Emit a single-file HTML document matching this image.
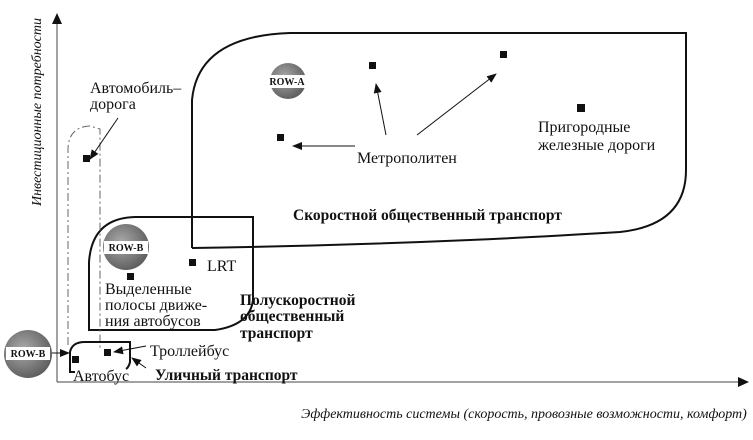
<!DOCTYPE html>
<html><head><meta charset="utf-8"><style>
body{margin:0;background:#fff}
svg text{font-family:"Liberation Serif",serif;fill:#111}
</style></head><body>
<svg width="753" height="435" viewBox="0 0 753 435" xmlns="http://www.w3.org/2000/svg">
<defs>
<marker id="a" markerWidth="10" markerHeight="8" refX="9" refY="4" orient="auto" markerUnits="userSpaceOnUse"><path d="M0,0L10,4L0,8z" fill="#111"/></marker>
<radialGradient id="g" cx="0.4" cy="0.4" r="0.7"><stop offset="0" stop-color="#aaa"/><stop offset="1" stop-color="#555"/></radialGradient>
</defs>
<line x1="57" y1="382" x2="57" y2="22" stroke="#444" stroke-width="1"/>
<path d="M52,24L57,13L62,24z" fill="#111"/>
<line x1="57" y1="382" x2="740" y2="382" stroke="#444" stroke-width="1"/>
<path d="M738,377L749,382L738,387z" fill="#111"/>
<text transform="translate(41,112) rotate(-90)" font-size="14" font-style="italic" text-anchor="middle">Инвестиционные потребности</text>
<text x="524" y="418" font-size="14" font-style="italic" text-anchor="middle">Эффективность системы (скорость, провозные возможности, комфорт)</text>
<path d="M192,248 L192,100 Q198,36 290,33 L686,33 L686,170 Q686,225 620,232 Q520,238 470,240 Q330,246 192,248" fill="none" stroke="#111" stroke-width="2"/>
<path d="M180,217 L253,217 L253,300 Q250,325 215,330 L89,330 L89,262 Q92,218 135,217 Z" fill="none" stroke="#111" stroke-width="2"/>
<line x1="192" y1="217" x2="192" y2="248" stroke="#111" stroke-width="2"/>
<path d="M68,345 L68,150 Q68,127 90,126 L100,129 L100,350" fill="none" stroke="#666" stroke-width="1" stroke-dasharray="8,3,2,3"/>
<path d="M75,372 L70,372 L70,352 Q72,342 85,342 L130,342 L130,362 Q129,367 126,369" fill="none" stroke="#111" stroke-width="2"/>
<circle cx="288" cy="81" r="18" fill="url(#g)"/>
<rect x="262" y="75" width="50" height="13" fill="#fff"/>
<text x="287" y="85" font-size="10" font-weight="bold" text-anchor="middle">ROW-A</text>
<circle cx="126" cy="247" r="23" fill="url(#g)"/>
<rect x="104" y="241" width="44" height="13" fill="#fff"/>
<text x="126" y="251" font-size="10" font-weight="bold" text-anchor="middle">ROW-B</text>
<circle cx="28" cy="354" r="24" fill="url(#g)"/>
<rect x="6" y="347" width="44" height="13" fill="#fff"/>
<text x="28" y="357" font-size="10" font-weight="bold" text-anchor="middle">ROW-B</text>
<g fill="#111">
<rect x="369" y="62" width="7" height="7"/><rect x="500" y="51" width="7" height="7"/>
<rect x="577" y="104" width="8" height="8"/><rect x="277" y="134" width="7" height="7"/>
<rect x="83" y="155" width="7" height="7"/><rect x="189" y="259" width="7" height="7"/>
<rect x="127" y="273" width="7" height="7"/><rect x="72" y="356" width="7" height="7"/>
<rect x="104" y="349" width="7" height="7"/>
</g>
<g stroke="#111" stroke-width="1" marker-end="url(#a)">
<line x1="355" y1="146" x2="293" y2="146"/>
<line x1="386" y1="135" x2="376" y2="84"/>
<line x1="417" y1="135" x2="496" y2="74"/>
<line x1="118" y1="118" x2="90" y2="159"/>
<line x1="52" y1="353" x2="69" y2="353"/>
<line x1="146" y1="346" x2="114" y2="352"/>
<line x1="146" y1="368" x2="132" y2="358"/>
</g>
<g font-size="16">
<text x="90" y="93">Автомобиль–</text>
<text x="90" y="109">дорога</text>
<text x="357" y="163">Метрополитен</text>
<text x="538" y="132">Пригородные</text>
<text x="538" y="150">железные дороги</text>
<text x="207" y="271">LRT</text>
<text x="105" y="294">Выделенные</text>
<text x="105" y="310">полосы движе-</text>
<text x="105" y="326">ния автобусов</text>
<text x="150" y="356">Троллейбус</text>
<text x="73" y="381">Автобус</text>
</g>
<g font-size="15.5" font-weight="bold">
<text x="293" y="220">Скоростной общественный транспорт</text>
<text x="240" y="305">Полускоростной</text>
<text x="240" y="321">общественный</text>
<text x="240" y="338">транспорт</text>
<text x="155" y="380">Уличный транспорт</text>
</g>
</svg>
</body></html>
